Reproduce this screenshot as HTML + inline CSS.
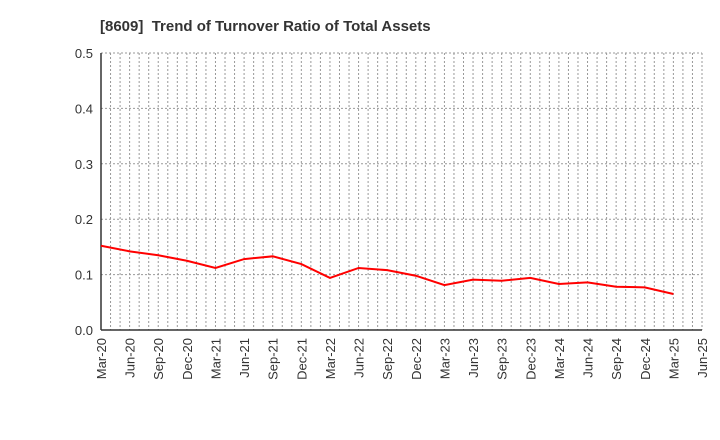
<!DOCTYPE html>
<html><head><meta charset="utf-8"><style>body{margin:0;background:#fff}svg{display:block;font-family:"Liberation Sans",sans-serif}</style></head>
<body>
<svg id="c" width="720" height="440">
<text x="100" y="31" font-size="15" font-weight="bold" fill="#333" xml:space="preserve">[8609]  Trend of Turnover Ratio of Total Assets</text>
</svg>
<script>
const categories=["Mar-20","Jun-20","Sep-20","Dec-20","Mar-21","Jun-21","Sep-21","Dec-21","Mar-22","Jun-22","Sep-22","Dec-22","Mar-23","Jun-23","Sep-23","Dec-23","Mar-24","Jun-24","Sep-24","Dec-24","Mar-25","Jun-25"];
const values=[0.152,0.142,0.135,0.125,0.112,0.128,0.133,0.119,0.094,0.112,0.108,0.098,0.081,0.091,0.089,0.094,0.083,0.086,0.078,0.077,0.065];
const yTicks=["0.0","0.1","0.2","0.3","0.4","0.5"];
const svg=document.getElementById('c'),NS="http://www.w3.org/2000/svg";
const X0=101,X1=702,Y0=330,Y1=53;
const nQ=categories.length-1;
const x=i=>X0+(X1-X0)*i/nQ;
const y=v=>Y0-(Y0-Y1)*v/0.5;
function mk(t,a){const e=document.createElementNS(NS,t);for(const k in a)e.setAttribute(k,a[k]);svg.appendChild(e);return e;}
for(let m=1;m<=nQ*3;m++){const xx=X0+(X1-X0)*m/(nQ*3);
const g=mk('line',{x1:xx,x2:xx,y1:Y1,y2:Y0,stroke:'#999','stroke-dasharray':'2,2'});

}
yTicks.forEach((t,i)=>{const v=parseFloat(t),yy=y(v);
if(i>0){const g=mk('line',{x1:X0,x2:X1,y1:yy,y2:yy,stroke:'#999','stroke-dasharray':'2,2'});

}
const l=mk('text',{x:X0-8,y:yy+5,'text-anchor':'end','font-size':13,fill:'#333'});l.textContent=t;

});
categories.forEach((c,i)=>{const xx=x(i);
const l=mk('text',{transform:`translate(${xx+5},${Y0+8}) rotate(-90)`,'text-anchor':'end','font-size':13,fill:'#333'});l.textContent=c;

});
const ya=mk('line',{x1:X0,x2:X0,y1:Y1,y2:Y0,stroke:'#333','stroke-width':1.5});


const xa=mk('line',{x1:X0,x2:X1,y1:Y0,y2:Y0,stroke:'#333','stroke-width':1.5});


const p=mk('polyline',{points:values.map((v,i)=>x(i)+','+y(v)).join(' '),fill:'none',stroke:'#f00','stroke-width':2});


</script>
</body></html>
